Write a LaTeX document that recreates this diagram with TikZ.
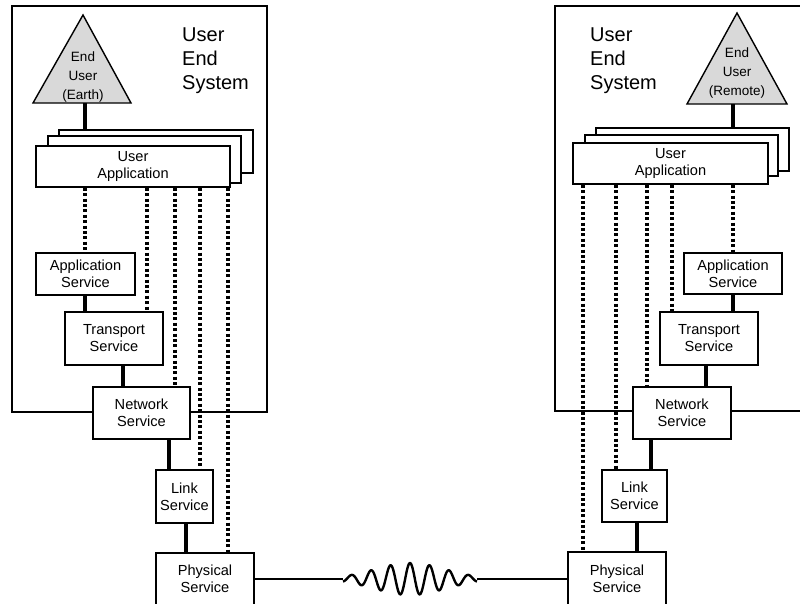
\documentclass[tikz,border=0pt]{standalone}
\usepackage{fontspec}
\setmainfont{Liberation Sans}
\begin{document}
\begin{tikzpicture}[x=1pt,y=-1pt,
  box/.style={draw, line width=1.4pt, fill=white, inner sep=0pt, align=center, font=\fontsize{14.6}{17}\selectfont},
  sysbox/.style={draw, line width=1.4pt, inner sep=0pt},
  conn/.style={line width=3.2pt},
  dotline/.style={line width=3.2pt, dash pattern=on 3pt off 2.4pt},
  tri/.style={draw, line width=1.4pt, fill=gray!30},
  title/.style={font=\fontsize{20}{24}\selectfont, align=left, inner sep=0pt, anchor=west},
  tritext/.style={font=\fontsize{13.5}{19}\selectfont, align=center, inner sep=0pt},
  wire/.style={line width=2.4pt},
]
\clip (0,0) rectangle (800,603);
\fill[white] (0,0) rectangle (800,603);

% ---------------- system boxes ----------------
\node[sysbox, minimum width=255, minimum height=406] (sysL) at (139.5,209) {};
\node[sysbox, minimum width=265, minimum height=405] (sysR) at (687.5,208.5) {};

% ---------------- triangles ----------------
\draw[tri] (33,103) -- (83,15) -- (131,103) -- cycle;
\coordinate (triL) at (85,103);
\node[tritext] (triLtext) at (83,77) {End\\User\\(Earth)};
\draw[tri] (687,104) -- (737,13) -- (787,104) -- cycle;
\coordinate (triR) at (733,104);
\node[tritext] (triRtext) at (737,73) {End\\User\\(Remote)};

% ---------------- titles ----------------
\node[title] (titleL) at (182,61) {User\\End\\System};
\node[title] (titleR) at (590,61) {User\\End\\System};

% ---------------- user application stacks ----------------
\node[box, minimum width=194, minimum height=43] (appLb) at (156,151.5) {};
\node[box, minimum width=193, minimum height=47] (appLm) at (144.5,159.5) {};
\node[box, minimum width=194, minimum height=41] (appL) at (133,166.5) {User\\Application};

\node[box, minimum width=193, minimum height=43] (appRb) at (692.5,149.5) {};
\node[box, minimum width=193, minimum height=41] (appRm) at (681.5,155.5) {};
\node[box, minimum width=195, minimum height=41] (appR) at (670.5,163.5) {User\\Application};

\draw[conn] (triL) -- (triL |- appLb.north);
\draw[conn] (triR) -- (triR |- appRb.north);

% ---------------- service boxes ----------------
\node[box, minimum width=99, minimum height=42] (appSvcL) at (85.5,274) {Application\\Service};
\node[box, minimum width=98, minimum height=53] (trL) at (114,338.5) {Transport\\Service};
\node[box, minimum width=97, minimum height=52] (netL) at (141.5,413) {Network\\Service};
\node[box, minimum width=57, minimum height=53] (linkL) at (184.5,496.5) {Link\\Service};
\node[box, minimum width=98, minimum height=52] (phyL) at (205,579) {Physical\\Service};

\node[box, minimum width=98, minimum height=41] (appSvcR) at (733,273.5) {Application\\Service};
\node[box, minimum width=98, minimum height=53] (trR) at (709,338.5) {Transport\\Service};
\node[box, minimum width=98, minimum height=52] (netR) at (682,413) {Network\\Service};
\node[box, minimum width=65, minimum height=52] (linkR) at (634.5,496) {Link\\Service};
\node[box, minimum width=98, minimum height=53] (phyR) at (617,578.5) {Physical\\Service};

% ---------------- dotted peer links ----------------
\draw[dotline] (appL.south -| 85,0) -- (appSvcL.north -| 85,0);
\draw[dotline] (appL.south -| 147,0) -- (trL.north -| 147,0);
\draw[dotline] (appL.south -| 175,0) -- (netL.north -| 175,0);
\draw[dotline] (appL.south -| 200,0) -- (linkL.north -| 200,0);
\draw[dotline] (appL.south -| 228,0) -- (phyL.north -| 228,0);

\draw[dotline] (appR.south -| 733,0) -- (appSvcR.north -| 733,0);
\draw[dotline] (appR.south -| 672,0) -- (trR.north -| 672,0);
\draw[dotline] (appR.south -| 647,0) -- (netR.north -| 647,0);
\draw[dotline] (appR.south -| 616,0) -- (linkR.north -| 616,0);
\draw[dotline] (appR.south -| 583,0) -- (phyR.north -| 583,0);

% ---------------- solid layer links ----------------
\draw[conn] (appSvcL.south -| 85,0) -- (trL.north -| 85,0);
\draw[conn] (trL.south -| 123,0) -- (netL.north -| 123,0);
\draw[conn] (netL.south -| 169,0) -- (linkL.north -| 169,0);
\draw[conn] (linkL.south -| 186,0) -- (phyL.north -| 186,0);

\draw[conn] (appSvcR.south -| 733,0) -- (trR.north -| 733,0);
\draw[conn] (trR.south -| 706,0) -- (netR.north -| 706,0);
\draw[conn] (netR.south -| 651,0) -- (linkR.north -| 651,0);
\draw[conn] (linkR.south -| 637,0) -- (phyR.north -| 637,0);

% ---------------- physical medium ----------------
\coordinate (waveS) at (343,579);
\coordinate (waveE) at (477,579);
\draw[wire] (phyL.east |- waveS) -- (waveS);
\draw[wire, line join=round] plot[domain=-67:67, samples=240] ({410+\x}, {579 - 16*exp(-(\x/50)*(\x/50))*cos(18.4615*\x)});
\draw[wire] (waveE) -- (phyR.west |- waveE);
\end{tikzpicture}
\end{document}
